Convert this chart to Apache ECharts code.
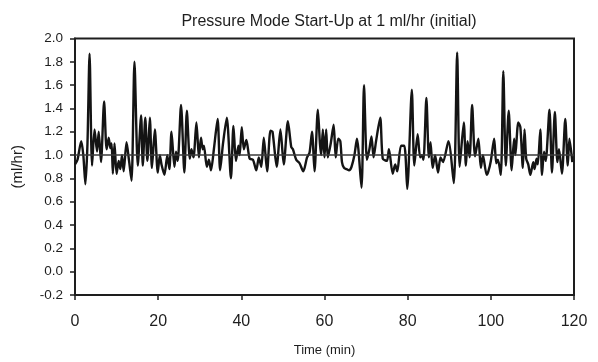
<!DOCTYPE html>
<html>
<head>
<meta charset="utf-8">
<script src="https://cdn.jsdelivr.net/npm/echarts@6/dist/echarts.min.js"></script>
<style>
  html, body { margin: 0; padding: 0; background: #fff; }
  #chart { width: 598px; height: 362px; }
</style>
</head>
<body>
<div id="chart"></div>
<script>
// Flow readings during pressure-mode start-up (time in min, flow in ml/hr)
const timeMin = [
  0.0, 0.6, 1.5, 2.0, 2.5, 3.0, 3.5, 4.1, 4.7, 5.3, 5.7, 6.25, 7.0, 7.6, 8.1, 8.5, 8.8, 9.1, 9.5, 10.0,
  10.5, 10.9, 11.3, 11.7, 12.4, 13.0, 13.6, 14.3, 15.1, 15.9, 16.3, 16.9, 17.4, 18.0, 18.5, 19.2, 19.9,
  20.4, 20.8, 21.5, 22.2, 22.7, 23.2, 23.9, 24.3, 24.7, 25.5, 26.3, 26.9, 27.6, 28.0, 28.5, 29.2, 29.8,
  30.3, 30.7, 31.0, 31.7, 32.2, 32.7, 33.4, 34.3, 34.9, 35.6, 36.5, 37.5, 38.1, 38.7, 39.3, 39.6,
  40.1, 40.6, 41.2, 42.0, 42.8, 43.6, 44.2, 44.8, 45.4, 46.2, 47.0, 47.5, 48.5, 49.4, 50.2, 51.2, 52.0,
  52.4, 53.2, 54.0, 54.9, 55.8, 56.4, 57.0, 57.6, 58.4, 58.9, 59.2,
  59.6, 60.0, 60.4, 60.8, 61.5, 62.2, 62.7, 63.3, 63.8, 64.2, 64.7, 65.3, 65.9, 66.5, 67.2, 67.8, 68.9,
  69.5, 70.2, 70.8, 71.3, 71.8, 72.4, 73.4, 74.0, 75.0, 75.5, 76.4, 77.0, 77.5, 78.4, 79.2, 79.9,
  81.0, 81.6, 82.4, 83.0, 83.4, 83.8, 84.5, 85.1, 85.5, 86.0, 86.6, 87.3, 87.9, 88.5, 89.8, 91.1, 91.9,
  92.5, 93.5, 94.0, 94.4, 94.9, 95.5, 96.2, 97.0, 97.6, 98.1, 99.0,
  99.4, 100.0, 100.8, 101.3, 101.7, 102.4, 103.0, 103.6, 104.3, 105.0, 105.6, 105.9, 106.6, 107.1,
  107.7, 108.1, 108.5, 109.0, 109.5, 110.2, 110.5, 111.0, 111.3, 111.9, 112.3, 112.8, 113.2, 114.1,
  114.7, 115.4, 116.0, 116.4, 117.1, 117.9, 118.5, 118.9, 119.6
];
const flowMlHr = [
  0.92, 0.96, 1.12, 1.00, 0.75, 1.10, 1.87, 0.91, 1.22, 1.03, 1.20, 0.94, 1.46, 1.05, 1.15, 1.06, 1.10, 0.84, 1.10, 0.84,
  0.95, 0.88, 1.00, 0.86, 1.11, 0.95, 0.78, 1.80, 0.91, 1.34, 0.91, 1.32, 0.95, 1.32, 0.89, 1.22, 0.85,
  1.00, 0.92, 0.83, 1.00, 0.88, 1.20, 0.90, 1.03, 0.95, 1.43, 0.85, 1.38, 0.97, 1.05, 0.98, 1.28, 0.98,
  1.15, 1.05, 1.08, 0.90, 0.96, 0.87, 1.05, 1.31, 0.87, 1.10, 1.32, 0.80, 1.25, 0.95, 1.08, 1.00,
  1.24, 1.05, 1.13, 0.97, 0.96, 0.87, 0.98, 0.90, 1.15, 0.86, 1.21, 1.20, 0.90, 1.22, 0.92, 1.29, 1.07,
  1.05, 0.96, 0.93, 0.86, 0.98, 1.02, 1.20, 0.86, 1.39, 1.10, 1.00,
  1.22, 0.98, 1.22, 0.98, 1.10, 1.26, 0.98, 1.14, 1.12, 0.94, 0.89, 0.88, 0.87, 0.90, 1.00, 1.14, 0.72,
  1.60, 0.96, 1.05, 1.16, 0.98, 1.12, 1.32, 0.97, 0.95, 1.05, 0.84, 0.92, 0.86, 1.08, 1.08, 0.71,
  1.56, 0.91, 1.18, 0.98, 1.00, 0.96, 1.49, 0.98, 1.11, 0.89, 1.00, 0.85, 0.98, 0.94, 1.12, 0.76, 1.88,
  0.90, 1.28, 0.91, 1.12, 0.98, 1.43, 0.99, 1.14, 0.89, 1.00, 0.83,
  0.86, 0.95, 1.14, 0.93, 0.96, 0.83, 1.72, 0.91, 1.38, 0.87, 1.14, 1.00, 1.28, 1.24,
  0.89, 1.22, 0.97, 0.92, 0.83, 0.94, 0.88, 0.97, 0.92, 1.22, 0.83, 1.03, 0.95, 1.39,
  0.85, 1.37, 0.94, 1.05, 0.84, 1.31, 0.91, 1.14, 0.94
];
const targetFlow = 1.0;
const yTicks = [-0.2, 0.0, 0.2, 0.4, 0.6, 0.8, 1.0, 1.2, 1.4, 1.6, 1.8, 2.0];
const xTicks = [0, 20, 40, 60, 80, 100, 120];

const points = timeMin.map((t, i) => [t, flowMlHr[i]]);
const font = 'Liberation Sans, Arial, sans-serif';
const ink = '#1e1e1e';

const chart = echarts.init(document.getElementById('chart'), null, { renderer: 'canvas' });
chart.setOption({
  animation: false,
  backgroundColor: '#ffffff',
  title: {
    text: 'Pressure Mode Start-Up at 1 ml/hr (initial)',
    left: 324, textAlign: 'center', top: 9,
    textStyle: { fontFamily: font, fontSize: 16, fontWeight: 'normal', color: ink }
  },
  grid: {
    left: 75, right: 24, top: 38.5, bottom: 63.5,
    show: true, borderColor: ink, borderWidth: 2, backgroundColor: 'transparent'
  },
  xAxis: {
    type: 'value',
    min: xTicks[0], max: xTicks[xTicks.length - 1], interval: 20,
    name: 'Time (min)', nameLocation: 'middle', nameGap: 49,
    nameTextStyle: { fontFamily: font, fontSize: 13, color: ink },
    axisLine: { show: true, onZero: false, lineStyle: { color: ink, width: 2 } },
    axisTick: { show: true, length: 5, lineStyle: { color: ink, width: 1.5 } },
    axisLabel: { fontFamily: font, fontSize: 16, color: ink, margin: 19 },
    splitLine: { show: false }
  },
  yAxis: {
    type: 'value',
    min: yTicks[0], max: yTicks[yTicks.length - 1], interval: 0.2,
    name: '(ml/hr)', nameLocation: 'middle', nameGap: 50, nameRotate: 90,
    nameTextStyle: { fontFamily: font, fontSize: 15, color: ink },
    axisLine: { show: true, onZero: false, lineStyle: { color: ink, width: 2 } },
    axisTick: { show: true, length: 5, lineStyle: { color: ink, width: 1.5 } },
    axisLabel: {
      fontFamily: font, fontSize: 13.5, color: ink, margin: 12,
      formatter: v => v.toFixed(1)
    },
    splitLine: { show: false }
  },
  series: [{
    type: 'line',
    data: points,
    showSymbol: false,
    smooth: 0.25,
    lineStyle: { color: '#141414', width: 2.4 },
    markLine: {
      silent: true, symbol: 'none', label: { show: false },
      lineStyle: { color: '#3a3a3a', width: 1.5, type: 'solid' },
      data: [{ yAxis: targetFlow }]
    },
    z: 3
  }]
});
</script>
</body>
</html>
